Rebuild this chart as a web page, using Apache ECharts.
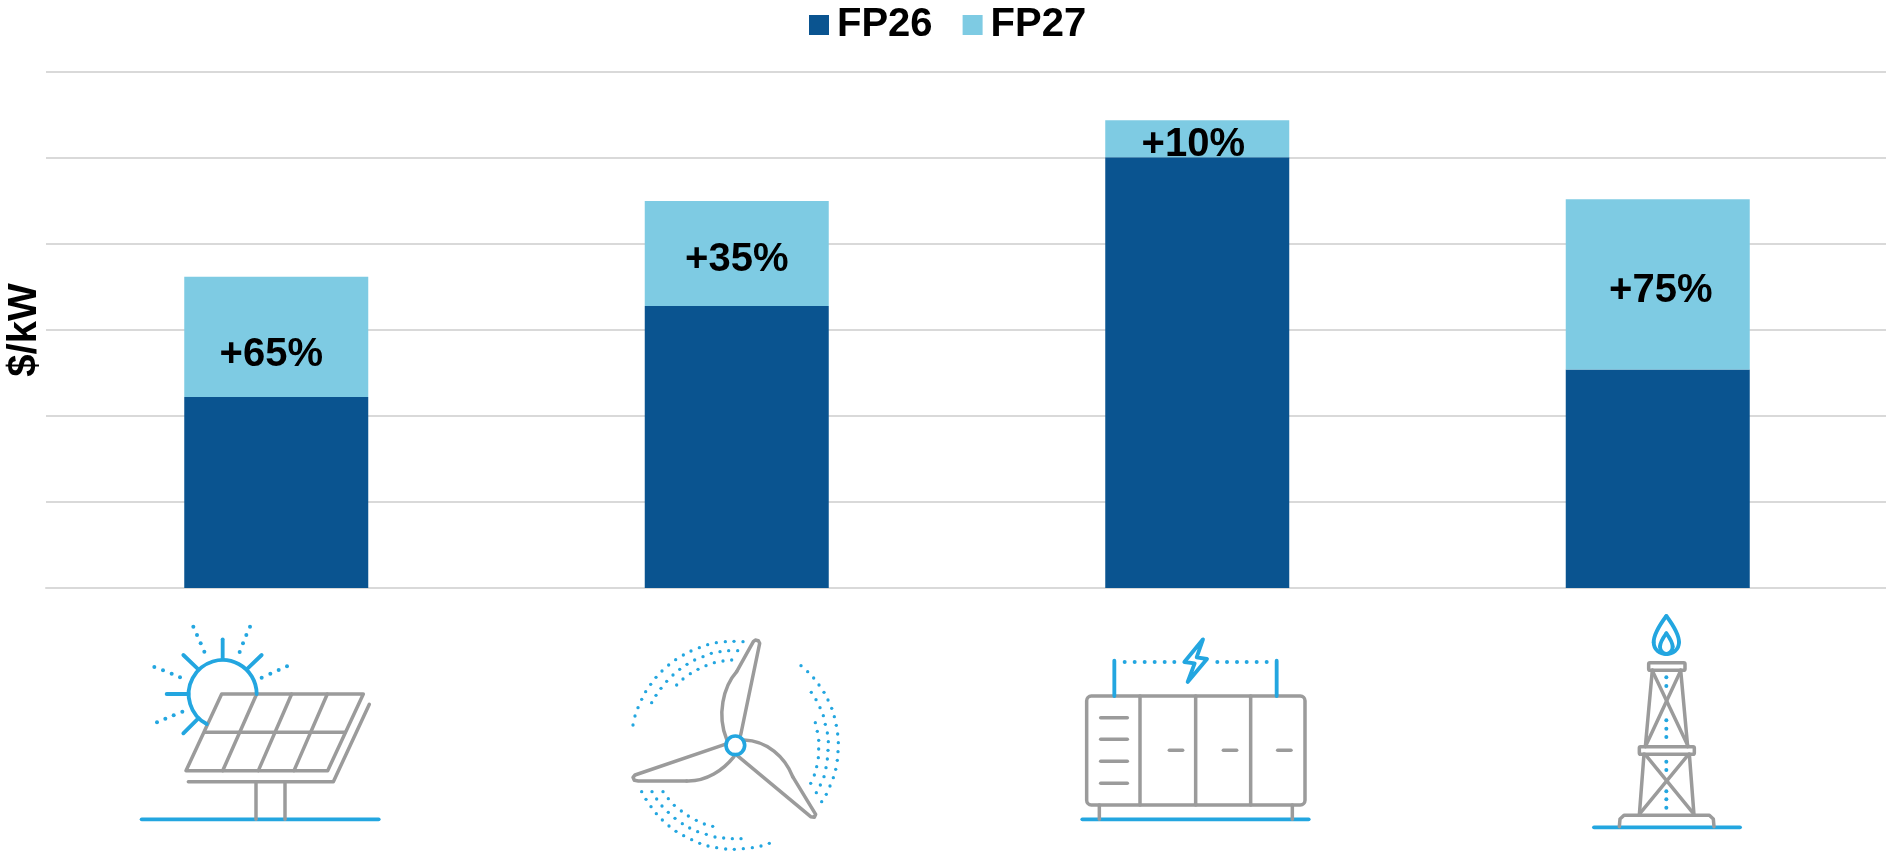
<!DOCTYPE html>
<html><head><meta charset="utf-8">
<style>html,body{margin:0;padding:0;background:#fff}#c{width:1886px;height:854px}</style>
<script src="https://cdn.jsdelivr.net/npm/echarts@6/dist/echarts.min.js"></script>
</head><body><div id="c"></div>
<script>
const categories = ['Solar', 'Wind', 'Storage', 'Gas'];
const fp26 = [2.22, 3.28, 5.01, 2.54];
const fp27 = [1.40, 1.22, 0.43, 1.98];
const increases = ['+65%', '+35%', '+10%', '+75%'];
const labelOffsets = [[-5, 18], [0, 7], [-4, 6], [3, 7]];
const yTicks = { min: 0, max: 6, interval: 1 };

const GREY = '#9b9b9b', BLUE = '#23a6e0';
const grey = { stroke: GREY, lineWidth: 10.5, fill: 'none', lineCap: 'round', lineJoin: 'round' };
const blue = { stroke: BLUE, lineWidth: 11.5, fill: 'none', lineCap: 'round', lineJoin: 'round' };
const L = (s, a, b, c, d) => ({ type: 'line', shape: { x1: a, y1: b, x2: c, y2: d }, style: s });
const P = (s, pts) => ({ type: 'polyline', shape: { points: pts }, style: s });
const G = (s, pts) => ({ type: 'polygon', shape: { points: pts }, style: s });
const B = (s, a, b, c, d, e, f, g, h) => ({ type: 'bezierCurve', shape: { x1: a, y1: b, cpx1: c, cpy1: d, cpx2: e, cpy2: f, x2: g, y2: h }, style: s });
const R = (s, x, y, w, h, r) => ({ type: 'rect', shape: { x, y, width: w, height: h, r }, style: s });
const dots = (pts, r) => pts.map(p => ({ type: 'circle', shape: { cx: p[0], cy: p[1], r: r || 6 }, style: { fill: BLUE } }));
const icon = (x, y, children) => ({ type: 'group', x, y, scaleX: 1 / 3, scaleY: 1 / 3, silent: true, children });

const solar = icon(100, 590, [
  L(blue, 125, 688, 836, 688),
  L(grey, 468, 578, 468, 688), L(grey, 555, 578, 555, 688),
  P(grey, [[265, 575], [700, 575], [808, 343]]),
  G(grey, [[365, 312], [790, 312], [683, 542], [258, 542]]),
  L(grey, 316, 427, 735, 427),
  L(grey, 470, 312, 368, 542), L(grey, 575, 312, 475, 542), L(grey, 682, 312, 582, 542),
  { type: 'arc', shape: { cx: 368, cy: 312, r: 102, startAngle: 118 * Math.PI / 180, endAngle: 2 * Math.PI, clockwise: true }, style: blue },
  L(blue, 368, 148, 368, 208), L(blue, 250, 195, 295, 238), L(blue, 485, 195, 440, 238),
  L(blue, 200, 312, 265, 312), L(blue, 250, 430, 295, 385),
  ...dots([[280,110],[291,135],[302,160],[313,185],[450,110],[439,135],[429,160],[419,186],[163,231],[189,241],[215,251],[240,262],[561,229],[536,240],[511,251],[485,263],[171,397],[196,386],[221,376],[247,365]])
]);

const wind = icon(590, 600, [
  ...dots([[129,375],[135,348],[144,323],[155,298],[167,275],[182,253],[198,232],[216,213],[236,195],[257,179],[280,165],[303,153],[328,143],[353,134],[379,128],[406,125],[432,124],[459,125],
    [185,308],[198,286],[213,265],[230,244],[249,225],[269,208],[291,193],[314,180],[339,170],[364,160],[390,155],[416,152],[443,152],
    [260,255],[279,237],[301,221],[324,208],[348,197],[373,188],[399,183],[425,180],
    [633,197],[653,215],[671,234],[687,255],[702,277],[714,300],[725,325],[733,350],[739,376],[743,402],[745,428],[744,455],[742,481],[737,508],[730,533],[720,558],[709,583],[695,605],
    [664,277],[678,299],[690,323],[700,347],[706,373],[712,399],[715,425],[714,451],[712,477],[708,503],[702,530],[691,555],[679,578],
    [676,368],[682,394],[686,421],[686,447],[685,473],[680,500],[673,525],[662,550],
    [155,575],[168,598],[183,620],[199,641],[217,660],[237,678],[258,694],[281,707],[305,719],[329,730],[354,738],[380,743],[407,747],[433,748],[460,746],[487,743],[513,738],[538,730],
    [186,575],[200,597],[216,618],[235,637],[255,655],[277,671],[299,684],[323,695],[349,703],[375,711],[401,714],[427,716],[453,716],
    [219,575],[235,596],[253,616],[274,633],[295,648],[319,661],[343,672],[368,679]], 5),
  P(grey, [[452,405],[509,130],[505,122],[496,120],[490,125],[440,215]]),
  B(grey, 440, 215, 400, 260, 380, 345, 410, 418),
  P(grey, [[405,433],[135,525],[129,532],[133,541],[145,543],[290,543]]),
  B(grey, 290, 543, 350, 545, 400, 510, 432, 470),
  P(grey, [[442,467],[662,650],[673,652],[677,643],[608,530]]),
  B(grey, 608, 530, 585, 470, 530, 422, 462, 420),
  { type: 'circle', shape: { cx: 436, cy: 436, r: 28 }, style: { fill: '#fff', stroke: BLUE, lineWidth: 11 } }
]);

const storage = icon(1050, 620, [
  L(blue, 97, 598, 776, 598),
  L(grey, 148, 555, 148, 598), L(grey, 727, 555, 727, 598),
  R(grey, 110, 228, 655, 327, 14),
  L(grey, 270, 228, 270, 555), L(grey, 437, 228, 437, 555), L(grey, 602, 228, 602, 555),
  L(grey, 152, 293, 232, 293), L(grey, 152, 358, 232, 358), L(grey, 152, 424, 232, 424), L(grey, 152, 490, 232, 490),
  L(grey, 358, 391, 398, 391), L(grey, 520, 391, 560, 391), L(grey, 683, 391, 723, 391),
  L(blue, 193, 122, 193, 228), L(blue, 680, 122, 680, 228),
  G(blue, [[459,58],[403,126],[434,130],[413,186],[471,117],[440,112]]),
  ...dots([[224,126],[254,126],[284,126],[314,126],[344,126],[373,126],[502,126],[531,126],[561,126],[590,126],[620,126],[650,126]], 6)
]);

const gas = icon(1560, 600, [
  L(blue, 102, 682, 540, 682),
  P(grey, [[178,680],[180,657],[192,646],[448,646],[460,657],[462,680]]),
  L(grey, 252, 462, 238, 645), L(grey, 388, 462, 402, 645),
  R(grey, 238, 440, 165, 23, 4),
  L(grey, 277, 210, 256, 440), L(grey, 362, 210, 383, 440),
  R(grey, 266, 188, 109, 23, 4),
  L(grey, 277, 212, 383, 436), L(grey, 362, 212, 258, 436),
  L(grey, 256, 464, 400, 640), L(grey, 385, 464, 240, 640),
  ...dots([[319,232],[319,258],[319,361],[319,386],[319,411],[319,485],[319,510],[319,574],[319,598],[319,623]]),
  B(blue, 319, 48, 295, 80, 281, 105, 281, 127), B(blue, 281, 127, 281, 150, 300, 162, 319, 162),
  B(blue, 319, 48, 343, 80, 357, 105, 357, 127), B(blue, 357, 127, 357, 150, 338, 162, 319, 162),
  B(blue, 319, 100, 308, 115, 300, 130, 300, 140), B(blue, 300, 140, 300, 152, 310, 162, 319, 162),
  B(blue, 319, 100, 330, 115, 338, 130, 338, 140), B(blue, 338, 140, 338, 152, 328, 162, 319, 162)
]);

const FONT = '"Liberation Sans", Arial, sans-serif';
const chart = echarts.init(document.getElementById('c'), null, { renderer: 'canvas' });
chart.setOption({
  animation: false,
  backgroundColor: '#fff',
  textStyle: { fontFamily: FONT },
  legend: {
    data: ['FP26', 'FP27'], left: 804, top: 0, itemWidth: 20, itemHeight: 20, itemGap: 30,
    icon: 'rect', textStyle: { fontFamily: FONT, fontWeight: 'bold', fontSize: 40, color: '#000', padding: [0, 0, 0, 3] }
  },
  grid: { left: 46, top: 72, width: 1842, height: 516, containLabel: false, outerBoundsMode: 'none' },
  xAxis: {
    type: 'category', data: categories,
    axisLine: { show: true, lineStyle: { color: '#d9d9d9', width: 2 } },
    axisTick: { show: false }, axisLabel: { show: false }
  },
  yAxis: {
    type: 'value', min: yTicks.min, max: yTicks.max, interval: yTicks.interval,
    name: '$/kW', nameLocation: 'middle', nameGap: 1, nameRotate: 90,
    nameTextStyle: { fontFamily: FONT, fontWeight: 'bold', fontSize: 40, color: '#000' },
    axisLine: { show: false }, axisTick: { show: false }, axisLabel: { show: false },
    splitLine: { lineStyle: { color: '#d9d9d9', width: 2 } }
  },
  series: [
    { name: 'FP26', type: 'bar', stack: 'total', barWidth: 184, itemStyle: { color: '#0a5490' }, data: fp26 },
    {
      name: 'FP27', type: 'bar', stack: 'total', barWidth: 184, itemStyle: { color: '#7ecbe3' },
      data: fp27.map((v, i) => ({
        value: v,
        label: { show: true, position: 'inside', formatter: increases[i], offset: labelOffsets[i], fontFamily: FONT, fontWeight: 'bold', fontSize: 40, color: '#000' }
      }))
    }
  ],
  graphic: { elements: [solar, wind, storage, gas] }
});
</script></body></html>
